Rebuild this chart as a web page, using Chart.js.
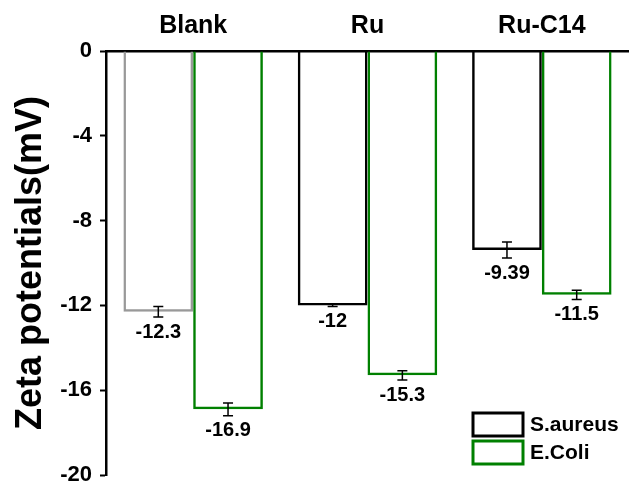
<!DOCTYPE html>
<html>
<head>
<meta charset="utf-8">
<script src="https://cdn.jsdelivr.net/npm/chart.js@4.4.0/dist/chart.umd.min.js"></script>
<style>
  html, body { margin: 0; padding: 0; background: #fff; }
  #wrap { width: 629px; height: 487px; position: relative; }
</style>
</head>
<body>
<div id="wrap"><canvas id="chart"></canvas></div>
<script>
// data
const categories = ['Blank', 'Ru', 'Ru-C14'];
const sAureus = [-12.3, -12, -9.39];
const sAureusErr = [0.25, 0.05, 0.38];
const eColi = [-16.9, -15.3, -11.5];
const eColiErr = [0.3, 0.22, 0.22];
const valueText = [['-12.3', '-12', '-9.39'], ['-16.9', '-15.3', '-11.5']];
const yTicks = [0, -4, -8, -12, -16, -20];

const FONT = '"Liberation Sans", Arial, sans-serif';
const errs = [sAureusErr, eColiErr];

// error bars + value labels under each bar
const barExtras = {
  id: 'barExtras',
  afterDatasetsDraw(chart) {
    const ctx = chart.ctx;
    const y = chart.scales.y;
    chart.data.datasets.forEach((ds, i) => {
      const meta = chart.getDatasetMeta(i);
      meta.data.forEach((bar, j) => {
        const v = ds.data[j];
        const e = errs[i][j];
        const yHi = y.getPixelForValue(v + e);
        const yLo = y.getPixelForValue(v - e);
        ctx.save();
        ctx.strokeStyle = '#000';
        ctx.lineWidth = 1.5;
        ctx.beginPath();
        ctx.moveTo(bar.x, yHi); ctx.lineTo(bar.x, yLo);
        ctx.moveTo(bar.x - 5, yHi); ctx.lineTo(bar.x + 5, yHi);
        ctx.moveTo(bar.x - 5, yLo); ctx.lineTo(bar.x + 5, yLo);
        ctx.stroke();
        ctx.fillStyle = '#000';
        ctx.font = 'bold 20px ' + FONT;
        ctx.textAlign = 'center';
        ctx.textBaseline = 'middle';
        ctx.fillText(valueText[i][j], bar.x, yLo + 15);
        ctx.restore();
      });
    });
  }
};

// legend box in the lower right corner
const cornerLegend = {
  id: 'cornerLegend',
  afterDraw(chart) {
    const ctx = chart.ctx;
    const a = chart.chartArea;
    const items = [['S.aureus', '#000'], ['E.Coli', '#008000']];
    items.forEach((it, k) => {
      const bx = a.right - 156;
      const by = a.bottom - 62 + k * 28;
      ctx.save();
      ctx.strokeStyle = it[1];
      ctx.lineWidth = 3;
      ctx.strokeRect(bx, by, 50, 23);
      ctx.fillStyle = '#000';
      ctx.font = 'bold 21px ' + FONT;
      ctx.textAlign = 'left';
      ctx.textBaseline = 'middle';
      ctx.fillText(it[0], bx + 57, by + 12);
      ctx.restore();
    });
  }
};

const ctx = document.getElementById('chart').getContext('2d');
new Chart(ctx, {
  type: 'bar',
  data: {
    labels: categories,
    datasets: [
      {
        label: 'S.aureus',
        data: sAureus,
        backgroundColor: 'rgba(255,255,255,0)',
        borderColor: ['#999999', '#000000', '#000000'],
        borderWidth: 2.5
      },
      {
        label: 'E.Coli',
        data: eColi,
        backgroundColor: 'rgba(255,255,255,0)',
        borderColor: '#008000',
        borderWidth: 2.5
      }
    ]
  },
  options: {
    responsive: true,
    maintainAspectRatio: false,
    animation: false,
    layout: { padding: 0 },
    datasets: { bar: { categoryPercentage: 0.8, barPercentage: 1.0 } },
    plugins: { legend: { display: false }, tooltip: { enabled: false } },
    scales: {
      x: {
        position: 'top',
        grid: { drawOnChartArea: false, drawTicks: false },
        border: { display: true, color: '#000', width: 2.5 },
        ticks: { color: '#000', font: { family: FONT, size: 25, weight: 'bold' }, padding: 10 },
        afterFit(s) { s.height = 51; }
      },
      y: {
        min: -20,
        max: 0,
        afterBuildTicks(s) { s.ticks = yTicks.map(v => ({ value: v })); },
        grid: { drawOnChartArea: false, tickLength: 6, tickColor: '#000', tickWidth: 2 },
        border: { display: true, color: '#000', width: 2.5 },
        ticks: { color: '#000', font: { family: FONT, size: 22, weight: 'bold' }, padding: 8 },
        title: {
          display: true,
          text: 'Zeta potentials(mV)',
          color: '#000',
          font: { family: FONT, size: 36, weight: 'bold' },
          padding: { top: 9, bottom: 0 }
        },
        afterFit(s) {
          s.width = 106;
          s.paddingTop = 0;
          s.paddingBottom = 12;
        }
      }
    }
  },
  plugins: [barExtras, cornerLegend]
});
</script>
</body>
</html>
